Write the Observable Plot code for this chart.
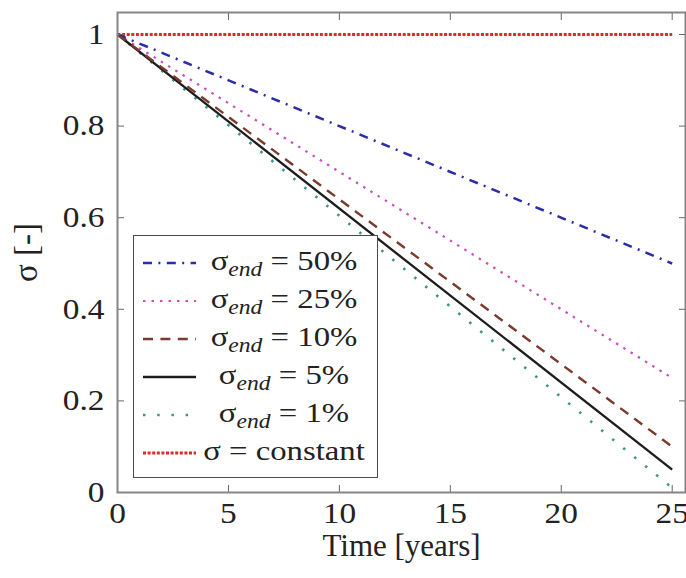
<!DOCTYPE html>
<html>
<head>
<meta charset="utf-8">
<script src="https://cdn.jsdelivr.net/npm/d3@7"></script>
<script src="https://cdn.jsdelivr.net/npm/@observablehq/plot@0.6"></script>
<style>
  html, body { margin: 0; padding: 0; background: #fff; }
  #wrap { position: relative; width: 686px; height: 578px; overflow: hidden; }
  #legend { position: absolute; left: 133px; top: 235px; width: 245px; height: 243px; box-sizing: border-box;
            border: 1.5px solid #4a4a4a; background: #fff; padding-top: 8px; font-family: "Liberation Serif", serif; color: #222; }
  .row { position: relative; height: 38px; }
  .row svg { position: absolute; left: 9px; top: 0; }
  .row .lab { position: absolute; left: 68px; width: 164px; text-align: center; font-size: 28px; line-height: 38px; top: -2px;
              white-space: nowrap; transform: scaleX(1.17); transform-origin: 50% 50%; }
  .row .lab sub { font-style: italic; font-size: 0.72em; vertical-align: -0.28em; line-height: 0; }
</style>
</head>
<body>
<div id="wrap"></div>
<script>
// ---- data ----
const time = [0, 25];
const seriesKeys = ["end50", "end25", "end10", "end5", "end1", "constant"];
const seriesSub = ["end", "end", "end", "end", "end", null];
const seriesText = ["= 50%", "= 25%", "= 10%", "= 5%", "= 1%", "= constant"];
const seriesStart = [1, 1, 1, 1, 1, 1];
const seriesEnd = [0.5, 0.25, 0.10, 0.05, 0.01, 1.0];
const xTicks = [0, 5, 10, 15, 20, 25];
const yTicks = [0, 0.2, 0.4, 0.6, 0.8, 1];

// ---- styles ----
const styles = {
  end50:    {stroke: "#2c2caa", dash: "9,6.4,2,6.4", width: 2.5},
  end25:    {stroke: "#c94fbf", dash: "2.5,6", width: 2.2},
  end10:    {stroke: "#7a3b2c", dash: "10,7.4", width: 2.4},
  end5:     {stroke: "#1c1c1c", dash: null, width: 2.3},
  end1:     {stroke: "#3f9686", dash: "2.5,11.7", width: 2.6},
  constant: {stroke: "#e0282a", dash: "3,1.6", width: 3}
};

const rows = [];
seriesKeys.forEach((k, i) => {
  rows.push({key: k, t: time[0], s: seriesStart[i]});
  rows.push({key: k, t: time[1], s: seriesEnd[i]});
});

const drawOrder = ["constant", "end1", "end25", "end50", "end5", "end10"];
const lineMarks = drawOrder.map(k => Plot.line(rows.filter(r => r.key === k), {
  x: "t", y: "s", stroke: styles[k].stroke, strokeWidth: styles[k].width,
  strokeDasharray: styles[k].dash || undefined, strokeLinecap: "butt"
}));

const tickColor = "#666";
const chart = Plot.plot({
  width: 686, height: 578,
  marginLeft: 117, marginRight: 1, marginTop: 12, marginBottom: 86,
  x: {domain: [0, 25.6]},
  y: {domain: [0, 1.048]},
  style: {fontFamily: "'Liberation Serif', serif", background: "white", color: "#222"},
  marks: [
    ...lineMarks,
    Plot.axisX(xTicks, {anchor: "bottom", tickSize: 0, tickPadding: 10, fontSize: 29,
      label: "Time [years]", labelAnchor: "center", labelOffset: 63, labelArrow: "none"}),
    Plot.axisX(xTicks, {anchor: "bottom", tickSize: -7, fill: "none", stroke: tickColor}),
    Plot.axisX(xTicks, {anchor: "top", tickSize: -7, fill: "none", stroke: tickColor}),
    Plot.axisY(yTicks, {anchor: "left", tickSize: 0, tickPadding: 13, fontSize: 29, tickFormat: d => String(d),
      label: "σ [-]", labelAnchor: "center", labelOffset: 104, labelArrow: "none"}),
    Plot.axisY(yTicks, {anchor: "left", tickSize: -7, fill: "none", stroke: tickColor}),
    Plot.axisY(yTicks, {anchor: "right", tickSize: -7, fill: "none", stroke: tickColor}),
    Plot.frame({stroke: "#858585", strokeWidth: 2})
  ]
});

// widen tick label glyphs slightly (reference text is horizontally wide)
const svgSel = d3.select(chart);
function stretch(sel, s) {
  sel.each(function() {
    const t = d3.select(this);
    const tr = t.attr("transform");
    if (tr) t.attr("transform", tr + ` scale(${s},1)`);
    else {
      const x = +t.attr("x") || 0, y = +t.attr("y") || 0;
      t.attr("x", null).attr("y", null).attr("transform", `translate(${x},${y}) scale(${s},1)`);
    }
  });
}
stretch(svgSel.selectAll('g[aria-label="x-axis tick label"] text'), 1.15);
stretch(svgSel.selectAll('g[aria-label="y-axis tick label"] text'), 1.15);
svgSel.selectAll('g[aria-label="x-axis label"]').attr("font-size", 31);
svgSel.selectAll('g[aria-label="y-axis label"]').attr("font-size", 33);

const wrap = document.getElementById("wrap");
wrap.appendChild(chart);

// ---- legend (HTML overlay) ----
const legend = document.createElement("div");
legend.id = "legend";
seriesKeys.forEach((k, i) => {
  const row = document.createElement("div");
  row.className = "row";
  const st = styles[k];
  const svg = d3.create("svg").attr("width", 54).attr("height", 38);
  svg.append("line").attr("x1", 0).attr("x2", 53).attr("y1", 19).attr("y2", 19)
    .attr("stroke", st.stroke).attr("stroke-width", st.width)
    .attr("stroke-dasharray", st.dash);
  row.appendChild(svg.node());
  const lab = document.createElement("div");
  lab.className = "lab";
  lab.innerHTML = "σ" + (seriesSub[i] ? "<sub>" + seriesSub[i] + "</sub>" : "") + " " + seriesText[i];
  row.appendChild(lab);
  legend.appendChild(row);
});
wrap.appendChild(legend);
</script>
</body>
</html>
